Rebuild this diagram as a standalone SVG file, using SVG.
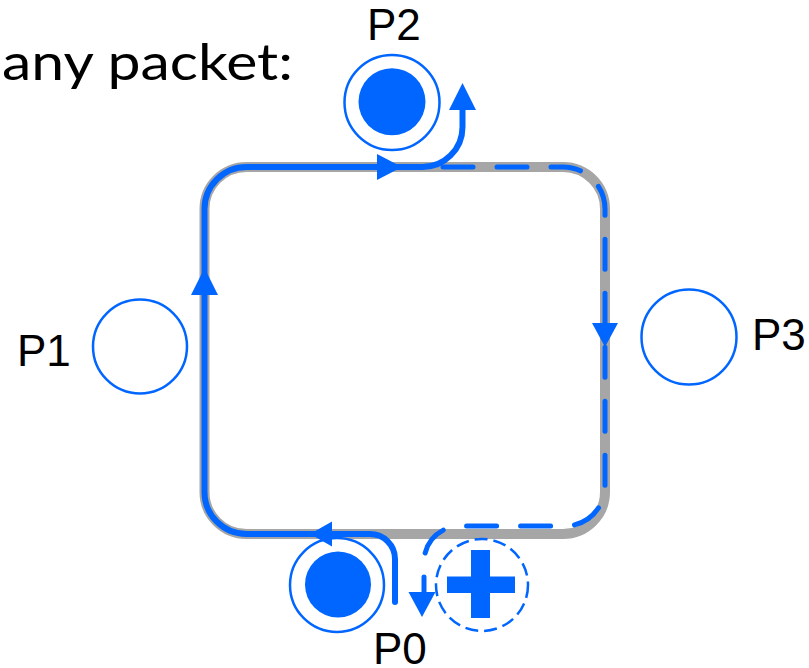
<svg xmlns="http://www.w3.org/2000/svg" width="809" height="668" viewBox="0 0 809 668">
  <style>
    .ring { fill: none; stroke: #0066ff; stroke-width: 2.5; }
    .dot { fill: #0066ff; }
    .label { font-family: "Liberation Sans", Arial, sans-serif; font-size: 44px; fill: #000; }
    .title { font-family: Lato, "Noto Sans", sans-serif; font-size: 50px; fill: #000; }
    .track { fill: none; stroke: #a6a6a6; stroke-width: 10; }
    .route { fill: none; stroke: #0066ff; stroke-width: 6; stroke-linecap: round; stroke-linejoin: round; }
    .route-dash { fill: none; stroke: #0066ff; stroke-width: 5; stroke-linecap: round; stroke-dasharray: 30 24; }
    .head { fill: #0066ff; }
  </style>

  <rect width="809" height="668" fill="#ffffff"/>

  <text class="title" x="2" y="80" textLength="291" lengthAdjust="spacingAndGlyphs">any packet:</text>

  <!-- ring track -->
  <g id="ring">
    <rect class="track" x="204.5" y="167" width="400.5" height="367" rx="42" ry="42"/>
  </g>

  <g id="connectors">
    <!-- solid route from P0 round the left side out at P2 -->
    <path class="route" d="M395,602 V559 A25,25 0 0 0 370,534 H246.5 A42,42 0 0 1 204.5,492 V209 A42,42 0 0 1 246.5,167 H422 A40,40 0 0 0 462.5,127 V108"/>
    <!-- dashed route round the right side back to P0 -->
    <path class="route-dash" d="M443,167 H563 A42,42 0 0 1 605,209 V486 A40,40 0 0 1 565,526 H460 A36,36 0 0 0 424,562 V592"/>
    <!-- arrowheads -->
    <polygon class="head" points="204.5,268 191,295 218,295"/>
    <polygon class="head" points="402,167 377,154 377,180"/>
    <polygon class="head" points="462.5,83 449,110 476,110"/>
    <polygon class="head" points="310,534 332,521.5 332,546.5"/>
    <polygon class="head" points="605,347 592,323 618,323"/>
    <polygon class="head" points="422,617 408.5,592 435.5,592"/>
  </g>

  <g id="P0">
    <circle class="ring" cx="337" cy="585" r="47"/>
    <circle class="dot" cx="338" cy="584.5" r="33"/>
    <text class="label" x="373" y="664">P0</text>
  </g>

  <g id="P1">
    <circle class="ring" cx="140" cy="346.5" r="47"/>
    <text class="label" x="17" y="366">P1</text>
  </g>

  <g id="P2">
    <circle class="ring" cx="392" cy="102.5" r="47.5"/>
    <circle class="dot" cx="392" cy="101.7" r="33.5"/>
    <text class="label" x="367" y="40">P2</text>
  </g>

  <g id="P3">
    <circle class="ring" cx="689" cy="337" r="47.5"/>
    <text class="label" x="752" y="350">P3</text>
  </g>

  <g id="new-packet">
    <circle class="ring" cx="482" cy="585" r="46" stroke-dasharray="13 6"/>
    <rect class="dot" x="447" y="576.5" width="68" height="16.5"/>
    <rect class="dot" x="471" y="550" width="19" height="68"/>
  </g>
</svg>
